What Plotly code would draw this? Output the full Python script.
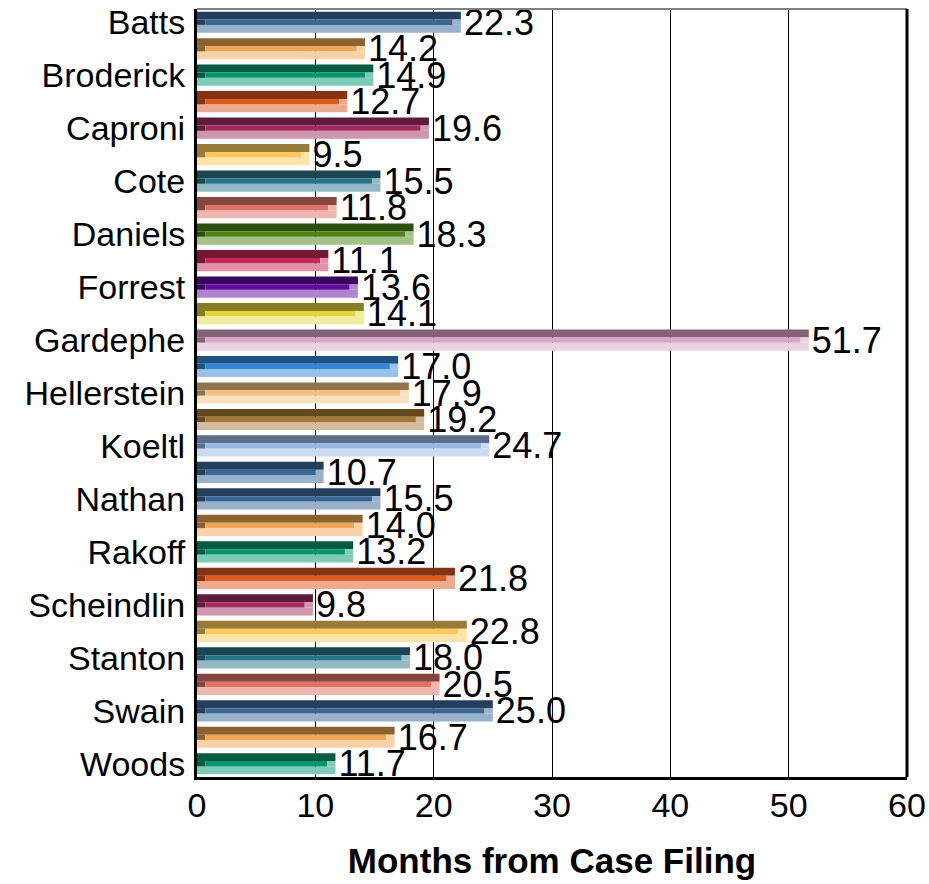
import plotly.graph_objects as go

# ---- data ----
judges = ["Batts", "Broderick", "Caproni", "Cote", "Daniels", "Forrest", "Gardephe",
          "Hellerstein", "Koeltl", "Nathan", "Rakoff", "Scheindlin", "Stanton", "Swain", "Woods"]
values = [22.3, 14.2, 14.9, 12.7, 19.6, 9.5, 15.5, 11.8, 18.3, 11.1, 13.6, 14.1, 51.7,
          17.0, 17.9, 19.2, 24.7, 10.7, 15.5, 14.0, 13.2, 21.8, 9.8, 22.8, 18.0, 20.5,
          25.0, 16.7, 11.7]
label_positions = [0, 2, 4, 6, 8, 10, 12, 14, 16, 18, 20, 22, 24, 26, 28]
x_ticks = [0, 10, 20, 30, 40, 50, 60]

# palette: (dark top bevel, face, light bottom bevel)
palette = [
    ("#243E5E", "#3A6696", "#9AB1CB"),
    ("#8D6231", "#F0A657", "#F8D1A4"),
    ("#015B41", "#029670", "#80CBB7"),
    ("#863314", "#DD5B1E", "#EEAA8E"),
    ("#611A3E", "#A02A5E", "#D196AF"),
    ("#9A7A38", "#FFC85A", "#FFE3A8"),
    ("#1A4654", "#267488", "#93BAC4"),
    ("#85463D", "#DD7265", "#EEB6AF"),
    ("#2D4F0C", "#4D8216", "#A5C18A"),
    ("#761636", "#C42756", "#E290AA"),
    ("#3A055F", "#5F0AA0", "#AF85CF"),
    ("#857F24", "#E2D63C", "#F1EA9F"),
    ("#846379", "#DAA5C8", "#EDD2E4"),
    ("#1F5182", "#3386D8", "#99C2EB"),
    ("#8F734C", "#F1C081", "#F8DFC0"),
    ("#634820", "#A47638", "#D2BC9B"),
    ("#5B6E8C", "#97B7E4", "#C9DCF3"),
]
color_index = [0, 1, 2, 3, 4, 5, 6, 7, 8, 9, 10, 11, 12, 13, 14, 15, 16,
               0, 0, 1, 2, 3, 4, 5, 6, 7, 0, 1, 2]

ypos = list(range(len(values)))
dark = [palette[i][0] for i in color_index]
face = [palette[i][1] for i in color_index]
light = [palette[i][2] for i in color_index]

FONT = "Arial, Liberation Sans, sans-serif"
BAR_W = 0.80
TOP_W = 0.30
MID_W = 0.20
BOT_W = BAR_W - TOP_W - MID_W
INSET = 0.7  # bevel inset (x units)

fig = go.Figure()
common = dict(orientation="h", y=ypos, hoverinfo="skip", showlegend=False,
              marker_line_width=0)

# top dark bevel
fig.add_trace(go.Bar(x=values, base=0, offset=-BAR_W / 2, width=TOP_W,
                     marker_color=dark, **common))
# bottom light bevel
fig.add_trace(go.Bar(x=values, base=0, offset=-BAR_W / 2 + TOP_W + MID_W, width=BOT_W,
                     marker_color=light, **common))
# middle row: left dark bevel, face, right light bevel
fig.add_trace(go.Bar(x=[INSET] * len(values), base=0, offset=-BAR_W / 2 + TOP_W,
                     width=MID_W, marker_color=dark, **common))
fig.add_trace(go.Bar(x=[v - 2 * INSET for v in values], base=INSET,
                     offset=-BAR_W / 2 + TOP_W, width=MID_W, marker_color=face, **common))
fig.add_trace(go.Bar(x=[INSET] * len(values), base=[v - INSET for v in values],
                     offset=-BAR_W / 2 + TOP_W, width=MID_W, marker_color=light, **common))
# value labels
fig.add_trace(go.Bar(x=values, base=0, offset=-BAR_W / 2, width=BAR_W,
                     marker_color="rgba(0,0,0,0)", text=[f"{v:.1f}" for v in values],
                     textposition="outside", constraintext="none", cliponaxis=False,
                     textfont=dict(family=FONT, size=36, color="black"), **common))

fig.update_layout(
    width=929, height=884,
    margin=dict(l=197, r=22, t=9, b=107, autoexpand=False),
    paper_bgcolor="white", plot_bgcolor="white",
    barmode="overlay",
    font=dict(family=FONT, color="black"),
    xaxis=dict(range=[0, 60], tickvals=x_ticks, ticktext=[str(t) for t in x_ticks],
               showgrid=True, gridcolor="black", gridwidth=1.3, zeroline=False,
               showline=True, linecolor="black", linewidth=3, ticks="",
               automargin=False, ticklabeloverflow="allow",
               tickfont=dict(family=FONT, size=34), ticklabelstandoff=-4,
               title=dict(text="<b>Months from Case Filing</b>",
                          font=dict(family=FONT, size=35), standoff=26)),
    yaxis=dict(range=[28.5, -0.5], tickvals=label_positions, ticktext=judges,
               showgrid=False, zeroline=False, showline=True, linecolor="black",
               linewidth=3, ticks="", automargin=False, ticklabeloverflow="allow",
               tickfont=dict(family=FONT, size=34), ticklabelstandoff=2),
    shapes=[
        dict(type="line", xref="paper", yref="paper", x0=0, x1=1, y0=1, y1=1,
             line=dict(color="#808080", width=2)),
        dict(type="line", xref="paper", yref="paper", x0=1, x1=1, y0=0, y1=1,
             line=dict(color="black", width=3)),
    ],
)

fig.write_html("out.html", config={"displayModeBar": False},
               post_script="document.body.style.margin='0';document.body.style.overflow='hidden';")
